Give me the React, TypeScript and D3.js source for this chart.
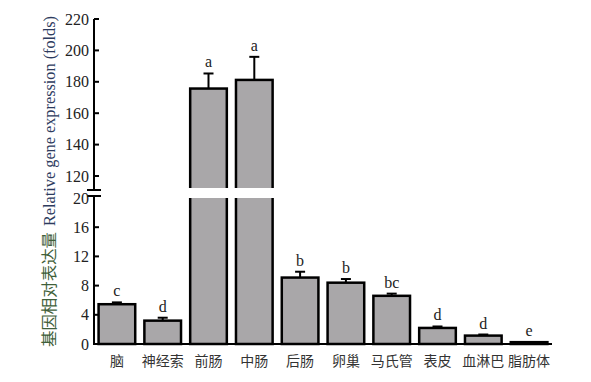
import React from "react";
import * as d3 from "d3";

const categories = ["脑", "神经索", "前肠", "中肠", "后肠", "卵巢", "马氏管", "表皮", "血淋巴", "脂肪体"];
const means = [5.45, 3.2, 175.7, 181.2, 9.1, 8.4, 6.6, 2.2, 1.15, 0.25];
const errors = [0.25, 0.4, 9.6, 14.7, 0.8, 0.5, 0.3, 0.2, 0.15, 0];
const letters = ["c", "d", "a", "a", "b", "b", "bc", "d", "d", "e"];
const upperTicks = [120, 140, 160, 180, 200, 220];
const lowerTicks = [0, 4, 8, 12, 16, 20];

const W = 591;
const H = 382;
const axisX = 94;
const axisRight = 552;
const upperBottom = 188;
const lowerTop = 198;

const x = d3.scaleBand<string>().domain(categories).range([axisX, axisRight]).paddingInner(0.2).paddingOuter(0.1);
const yU = d3.scaleLinear().domain([120, 220]).range([176, 19]);
const yL = d3.scaleLinear().domain([0, 20]).range([344, 198]);

const serif = "Liberation Serif, DejaVu Serif, serif";
const cjk = "Noto Sans CJK SC, sans-serif";

export default function App() {
  const bw = x.bandwidth();
  return (
    <svg width={W} height={H} style={{ display: "block", position: "absolute", left: 0, top: 0 }}>
      <defs>
        <clipPath id="clipU">
          <rect x={0} y={0} width={W} height={upperBottom} />
        </clipPath>
        <clipPath id="clipL">
          <rect x={0} y={lowerTop} width={W} height={H - lowerTop} />
        </clipPath>
      </defs>
      <rect x={0} y={0} width={W} height={H} fill="#fff" />
      {categories.map((c, i) => {
        const v = means[i];
        const x0 = x(c)!;
        const big = v > 20;
        const yTop = big ? yU(v) : yL(v);
        const yErr = big ? yU(v + errors[i]) : yL(v + errors[i]);
        const cx = x0 + bw / 2;
        return (
          <g key={c}>
            {big && (
              <rect clipPath="url(#clipU)" x={x0} y={yTop} width={bw} height={upperBottom + 10 - yTop}
                fill="#a9a7a9" stroke="#000" strokeWidth={2.5} />
            )}
            <rect clipPath={big ? "url(#clipL)" : undefined} x={x0} y={big ? lowerTop - 10 : yTop} width={bw}
              height={big ? yL(0) - lowerTop + 10 : yL(0) - yTop}
              fill="#a9a7a9" stroke="#000" strokeWidth={2.5} />
            {errors[i] > 0 && (
              <g stroke="#000" strokeWidth={2}>
                <line x1={cx} x2={cx} y1={yTop} y2={yErr} />
                <line x1={cx - 5} x2={cx + 5} y1={yErr} y2={yErr} />
              </g>
            )}
            <text x={cx} y={yErr - 6} textAnchor="middle" style={{ fontFamily: serif }} fontSize={16} fill="#222">{letters[i]}</text>
            <text x={cx} y={366} textAnchor="middle" style={{ fontFamily: cjk }} fontSize={14} fill="#333">{c}</text>
          </g>
        );
      })}
      <g stroke="#000" strokeWidth={2}>
        <line x1={axisX} x2={axisX} y1={yU(220)} y2={190} />
        <line x1={axisX} x2={axisX} y1={196} y2={yL(0) + 1} />
        <line x1={axisX - 7} x2={axisX + 7} y1={190} y2={190} />
        <line x1={axisX - 7} x2={axisX + 7} y1={196} y2={196} />
        <line x1={axisX - 1} x2={axisRight} y1={yL(0)} y2={yL(0)} />
        {upperTicks.map((t) => (
          <line key={"u" + t} x1={axisX} x2={axisX + 5} y1={yU(t)} y2={yU(t)} />
        ))}
        {lowerTicks.slice(1, 5).map((t) => (
          <line key={"l" + t} x1={axisX} x2={axisX + 5} y1={yL(t)} y2={yL(t)} />
        ))}
      </g>
      {upperTicks.map((t) => (
        <text key={"ut" + t} x={axisX - 5} y={yU(t)} dy="0.35em" textAnchor="end" style={{ fontFamily: serif }} fontSize={16} fill="#222">{t}</text>
      ))}
      {lowerTicks.map((t) => (
        <text key={"lt" + t} x={axisX - 5} y={yL(t)} dy="0.35em" textAnchor="end" style={{ fontFamily: serif }} fontSize={16} fill="#222">{t}</text>
      ))}
      <text transform="translate(55,347) rotate(-90)" textAnchor="start">
        <tspan style={{ fontFamily: cjk }} fontSize={16} fill="#3f5f3a" textLength={115} lengthAdjust="spacingAndGlyphs">基因相对表达量</tspan>
        <tspan style={{ fontFamily: serif }} fontSize={16} fill="#2d3b5e" dx={6} textLength={210} lengthAdjust="spacingAndGlyphs">Relative gene expression (folds)</tspan>
      </text>
    </svg>
  );
}
